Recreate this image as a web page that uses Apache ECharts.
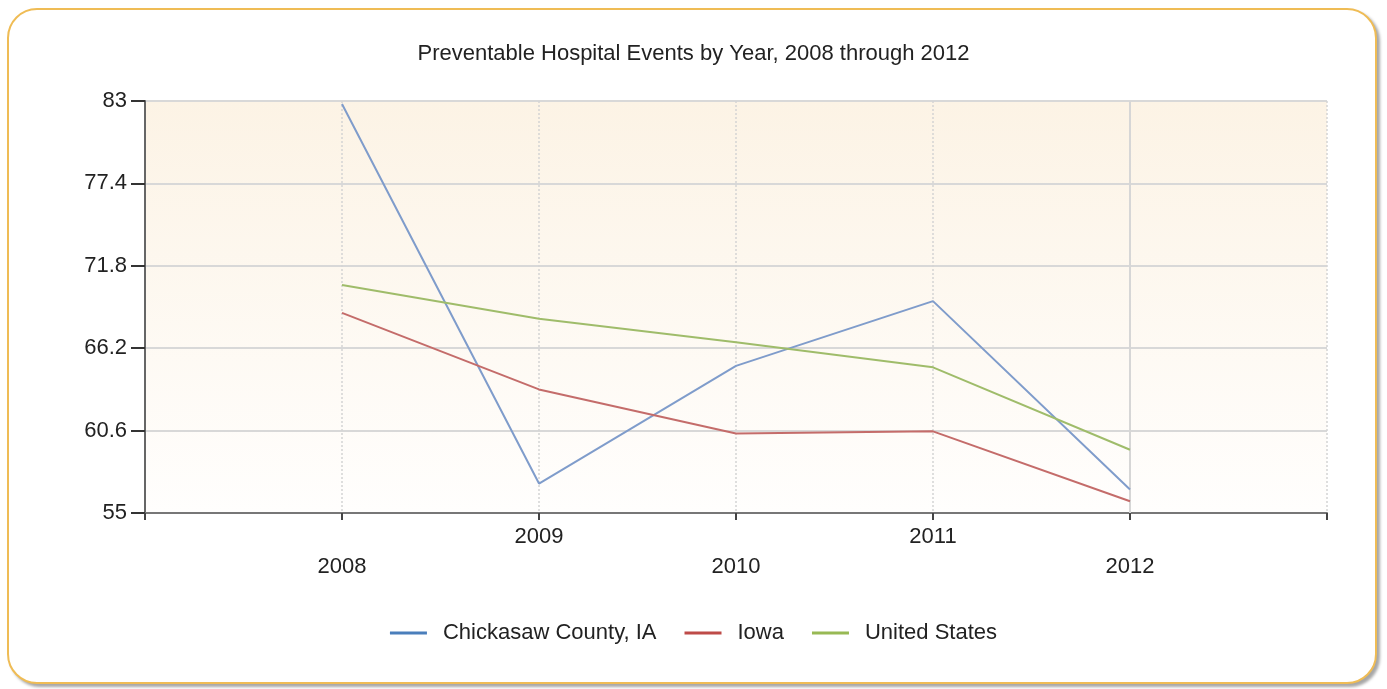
<!DOCTYPE html>
<html>
<head>
<meta charset="utf-8">
<script src="https://cdn.jsdelivr.net/npm/echarts@6/dist/echarts.min.js"></script>
<style>
  html, body { margin: 0; padding: 0; background: #ffffff; width: 1387px; height: 689px; overflow: hidden; }
  #frame { position: absolute; left: 7px; top: 8px; width: 1366px; height: 672px; border: 2px solid #EFBC55; border-radius: 30px; box-shadow: 3px 3px 3px rgba(0,0,0,0.35); background: #fff; }
  #chart { position: absolute; left: 0; top: 0; width: 1387px; height: 689px; }
</style>
</head>
<body>
<div id="frame"></div>
<div id="chart"></div>
<script>
const years = [2008, 2009, 2010, 2011, 2012];
const chickasaw = [82.8, 57.0, 65.0, 69.4, 56.6];
const iowa = [68.6, 63.4, 60.4, 60.55, 55.8];
const unitedStates = [70.5, 68.2, 66.6, 64.9, 59.3];
const seriesNames = ['Chickasaw County, IA', 'Iowa', 'United States'];
const yTicks = [55, 60.6, 66.2, 71.8, 77.4, 83];

const FONT = '"Liberation Sans", Arial, sans-serif';
const pairs = arr => years.map((y, i) => [y, arr[i]]);

const chart = echarts.init(document.getElementById('chart'), null, { renderer: 'canvas' });
chart.setOption({
  backgroundColor: 'transparent',
  animation: false,
  title: {
    text: 'Preventable Hospital Events by Year, 2008 through 2012',
    left: 'center', top: 38,
    textStyle: { fontFamily: FONT, fontSize: 22, fontWeight: 'normal', color: '#222' }
  },
  legend: {
    bottom: 40, left: 'center',
    itemWidth: 37, itemHeight: 3, itemGap: 28,
    icon: 'rect',
    textStyle: { fontFamily: FONT, fontSize: 22, color: '#222', padding: [0, 0, 0, 11] },
    data: seriesNames
  },
  grid: {
    left: 145, right: 60, top: 101, bottom: 176,
    show: true, borderWidth: 0,
    backgroundColor: new echarts.graphic.LinearGradient(0, 0, 0, 1, [
      { offset: 0, color: '#FCF3E5' },
      { offset: 1, color: '#FFFEFD' }
    ])
  },
  xAxis: {
    type: 'value', min: 2007, max: 2013, interval: 1,
    axisLine: { show: true, onZero: false, lineStyle: { color: '#777', width: 2 } },
    axisTick: { show: true, length: 7, lineStyle: { color: '#444', width: 2 } },
    splitLine: { show: true, lineStyle: { color: '#d4d4d4', type: [2, 2], width: 1.5 } },
    axisLabel: {
      margin: 9, fontFamily: FONT, fontSize: 22, color: '#222', lineHeight: 30,
      formatter: v => (v < years[0] || v > years[years.length - 1]) ? '' : (v % 2 === 0 ? ' \n' + v : String(v))
    }
  },
  yAxis: {
    type: 'value', min: yTicks[0], max: yTicks[yTicks.length - 1], interval: 5.6,
    axisLine: { show: true, lineStyle: { color: '#666', width: 2 } },
    axisTick: { show: true, length: 14, lineStyle: { color: '#333', width: 2 } },
    splitLine: { show: true, lineStyle: { color: '#d8d8d8', width: 2 } },
    axisLabel: {
      margin: 18, fontFamily: FONT, fontSize: 22, color: '#222',
      formatter: v => String(Math.round(v * 10) / 10)
    }
  },
  series: [
    { name: seriesNames[0], type: 'line', data: pairs(chickasaw), symbol: 'none',
      lineStyle: { color: '#7F9CCB', width: 2 }, itemStyle: { color: '#4A7EBB' },
      markLine: { silent: true, symbol: 'none', label: { show: false },
        lineStyle: { color: '#d6d6d6', type: 'solid', width: 2 },
        data: [{ xAxis: years[years.length - 1] }], z: 1 } },
    { name: seriesNames[1], type: 'line', data: pairs(iowa), symbol: 'none',
      lineStyle: { color: '#C46C6A', width: 2 }, itemStyle: { color: '#BE4B48' } },
    { name: seriesNames[2], type: 'line', data: pairs(unitedStates), symbol: 'none',
      lineStyle: { color: '#9FBC6A', width: 2 }, itemStyle: { color: '#98B954' } }
  ]
});
</script>
</body>
</html>
